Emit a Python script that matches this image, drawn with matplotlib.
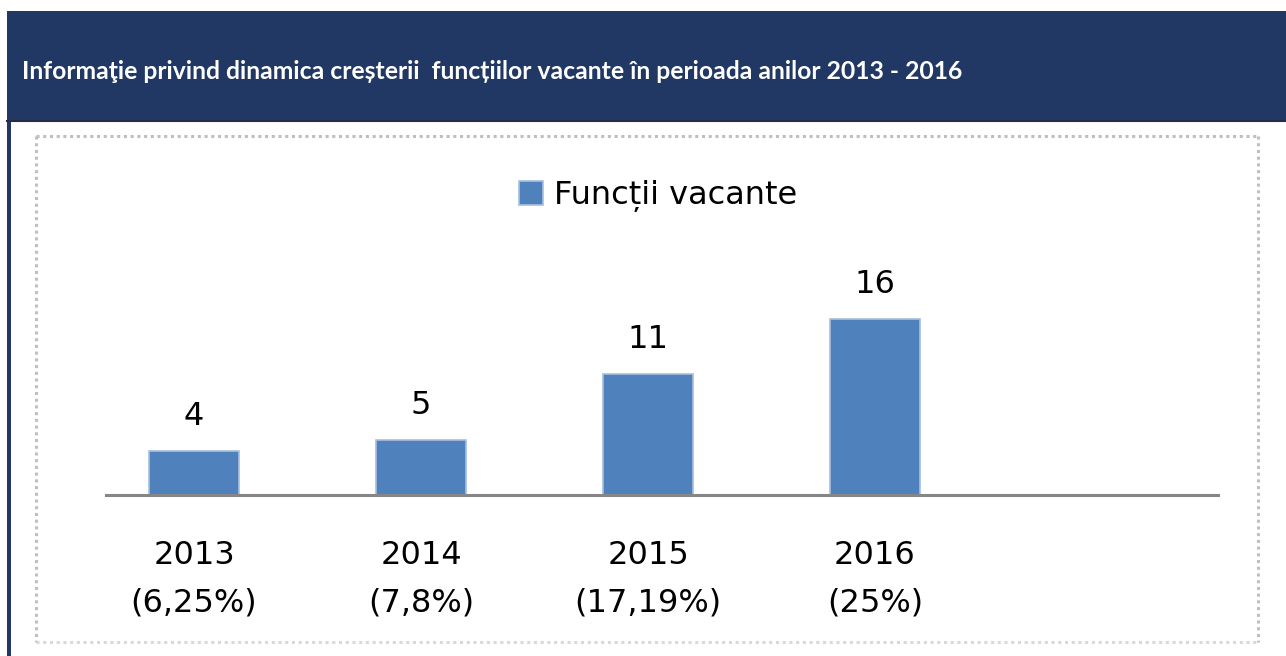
import matplotlib
matplotlib.use("Agg")
import matplotlib.pyplot as plt
from matplotlib.patches import Rectangle
from matplotlib.lines import Line2D
from matplotlib.transforms import blended_transform_factory

years = ["2013", "2014", "2015", "2016"]
shares = ["(6,25%)", "(7,8%)", "(17,19%)", "(25%)"]
values = [4, 5, 11, 16]
series_name = "Funcții vacante"
title = "Informaţie privind dinamica creșterii  funcțiilor vacante în perioada anilor 2013 - 2016"

W, H = 1286, 656
DPI = 100
fig = plt.figure(figsize=(W / DPI, H / DPI), dpi=DPI)
fig.patch.set_facecolor("white")

NAVY = "#213864"
BAR = "#4F81BD"
BAR_EDGE = "#A7BFDE"

def fx(px):
    return px / W

def fy(py):
    return 1 - py / H

# header band
fig.add_artist(Rectangle((fx(7), fy(122)), fx(W - 7), (122 - 11) / H,
                         transform=fig.transFigure, facecolor=NAVY, edgecolor="none", zorder=0))
fig.add_artist(Line2D([fx(7), 1], [fy(121), fy(121)], transform=fig.transFigure,
                      color="#272D45", lw=1.5, zorder=1))
# left vertical strip
fig.add_artist(Rectangle((fx(7), 0), fx(4), fy(122), transform=fig.transFigure,
                         facecolor=NAVY, edgecolor="none", zorder=0))

# title, scaled to target width
t = fig.text(fx(22), fy(79), title, color="white", fontweight="bold",
             family=["Lato", "DejaVu Sans"], fontsize=14, va="baseline", ha="left")
fig.canvas.draw()
bb = t.get_window_extent()
target = 970 - 22
t.set_fontsize(14 * target / bb.width)

# dotted frame
x0, x1, y0, y1 = 36, 1258, 136, 642
for xs, ys, c in [([x0, x1], [y0, y0], "#BFBFBF"),
                  ([x0, x0], [y0, y1], "#BFBFBF"),
                  ([x1, x1], [y0, y1], "#BFBFBF"),
                  ([x0, x1], [y1, y1], "#D9D9D9")]:
    fig.add_artist(Line2D([fx(v) for v in xs], [fy(v) for v in ys], transform=fig.transFigure,
                          color=c, lw=2.2, linestyle=(0, (1, 1.2)), dash_capstyle="butt", zorder=1))

# axes
ax_left, ax_right, ax_bottom, ax_top = 106, 1218, 495, 140
ax = fig.add_axes([fx(ax_left), fy(ax_bottom), (ax_right - ax_left) / W, (ax_bottom - ax_top) / H])
ax.set_facecolor("none")
px_per_unit = 11.0
ax.set_ylim(0, (ax_bottom - ax_top) / px_per_unit)
slot = 227.0
c0 = 194.0
ax.set_xlim((ax_left - c0) / slot, (ax_right - c0) / slot)

xs = list(range(len(values)))
bars = ax.bar(xs, values, width=90 / slot, color=BAR, edgecolor=BAR_EDGE, linewidth=1.2,
              label=series_name, zorder=2)
for s in ["top", "right", "left"]:
    ax.spines[s].set_visible(False)
ax.spines["bottom"].set_color("#868686")
ax.spines["bottom"].set_linewidth(2.2)
ax.spines["bottom"].set_zorder(3)
ax.set_yticks([])
ax.set_xticks([])

for x, v in zip(xs, values):
    ax.annotate(str(v), (x, v), xytext=(0, 26 * 72 / DPI), textcoords="offset points",
                ha="center", va="baseline", fontsize=23, family="DejaVu Sans", color="black")

tr = blended_transform_factory(ax.transData, fig.transFigure)
for x, y, s in zip(xs, years, shares):
    ax.text(x, fy(564), y, transform=tr, ha="center", va="baseline", fontsize=23,
            family="DejaVu Sans", color="black")
    ax.text(x, fy(612), s, transform=tr, ha="center", va="baseline", fontsize=23,
            family="DejaVu Sans", color="black")

leg = fig.legend(handles=[bars], labels=[series_name], loc="center",
                 bbox_to_anchor=(fx(658), fy(196)), frameon=False,
                 prop={"family": "DejaVu Sans", "size": 23},
                 handlelength=0.75, handleheight=0.75, handletextpad=0.35)

fig.savefig("out.png", dpi=DPI, facecolor="white")
